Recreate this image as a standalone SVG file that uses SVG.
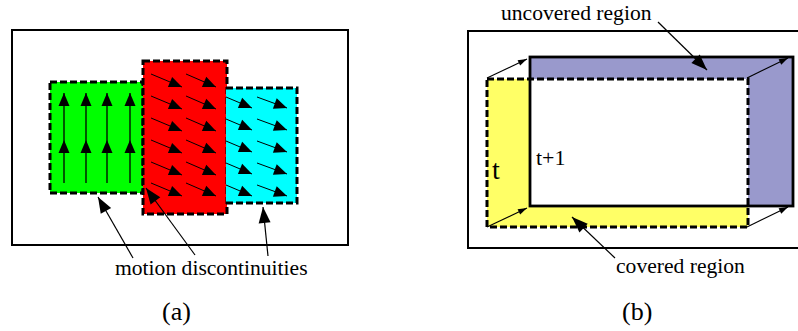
<svg xmlns="http://www.w3.org/2000/svg" width="798" height="331" viewBox="0 0 798 331">
<style>
.frame{fill:none;stroke:#000;stroke-width:2}
.dash{fill:none;stroke:#000;stroke-width:3;stroke-dasharray:7 3}
.solid{fill:none;stroke:#000;stroke-width:2.8}
.va{stroke:#000;stroke-width:1.3;fill:none;marker-end:url(#ah)}
.ptr{stroke:#000;stroke-width:1.2;fill:none;marker-end:url(#ph)}
.sm{stroke:#000;stroke-width:1.1;fill:none;marker-end:url(#sh)}
text{font-family:'Liberation Serif','Times New Roman',serif;fill:#000}
.lbl{font-size:21.6px}
.cap{font-size:26px}
</style>
<defs>
<marker id="ah" markerUnits="userSpaceOnUse" markerWidth="13" markerHeight="11" refX="13" refY="5.5" orient="auto" overflow="visible"><path d="M0,0 L13,5.5 L0,11 Z" fill="#000"/></marker>
<marker id="ph" markerUnits="userSpaceOnUse" markerWidth="16" markerHeight="12" refX="16" refY="6" orient="auto" overflow="visible"><path d="M0,0 L16,6 L0,12 Z" fill="#000"/></marker>
<marker id="sh" markerUnits="userSpaceOnUse" markerWidth="9" markerHeight="6" refX="9" refY="3" orient="auto" overflow="visible"><path d="M0,0 L9,3 L0,6 Z" fill="#000"/></marker>
</defs>
<rect width="798" height="331" fill="#fff"/>

<!-- Panel (a) -->
<g id="frame-a"><rect class="frame" x="12" y="30" width="336" height="215"/></g>
<g id="green-region">
<rect x="50" y="82" width="93" height="111" fill="#00ff00"/>
<rect class="dash" x="50" y="82" width="93" height="111"/>
<line class="va" x1="64" y1="183" x2="64" y2="140"/><line class="va" x1="64" y1="140" x2="64" y2="93"/>
<line class="va" x1="86" y1="183" x2="86" y2="140"/><line class="va" x1="86" y1="140" x2="86" y2="93"/>
<line class="va" x1="107" y1="183" x2="107" y2="140"/><line class="va" x1="107" y1="140" x2="107" y2="93"/>
<line class="va" x1="130" y1="183" x2="130" y2="140"/><line class="va" x1="130" y1="140" x2="130" y2="93"/>
</g>
<g id="red-region">
<rect x="143" y="61" width="84" height="153" fill="#ff0000"/>
<rect class="dash" x="143" y="61" width="84" height="153"/>
<g class="va" style="stroke-width:1">
<line x1="151" y1="74" x2="182" y2="87"/><line x1="186" y1="74" x2="216" y2="87"/>
<line x1="151" y1="96" x2="182" y2="109"/><line x1="186" y1="96" x2="216" y2="109"/>
<line x1="151" y1="118" x2="182" y2="131"/><line x1="186" y1="118" x2="216" y2="131"/>
<line x1="151" y1="140" x2="182" y2="153"/><line x1="186" y1="140" x2="216" y2="153"/>
<line x1="151" y1="162" x2="182" y2="175"/><line x1="186" y1="162" x2="216" y2="175"/>
<line x1="151" y1="183" x2="182" y2="196"/><line x1="186" y1="183" x2="216" y2="196"/>
</g>
</g>
<g id="cyan-region">
<rect x="226" y="88" width="71" height="115" fill="#00ffff"/>
<path class="dash" d="M226,88 H297 V203 H226"/>
<g class="va" style="stroke-width:1">
<line x1="226" y1="97" x2="252" y2="108"/><line x1="257" y1="97" x2="287" y2="108"/>
<line x1="226" y1="119" x2="252" y2="130"/><line x1="257" y1="119" x2="287" y2="130"/>
<line x1="226" y1="141" x2="252" y2="152"/><line x1="257" y1="141" x2="287" y2="152"/>
<line x1="226" y1="163" x2="252" y2="174"/><line x1="257" y1="163" x2="287" y2="174"/>
<line x1="226" y1="185" x2="252" y2="196"/><line x1="257" y1="185" x2="287" y2="196"/>
</g>
</g>
<g id="label-motion"><text class="lbl" x="115" y="275">motion discontinuities</text></g>
<g id="connectors-a">
<line class="ptr" x1="133" y1="258" x2="98" y2="197"/>
<line class="ptr" x1="195" y1="255" x2="146" y2="188"/>
<line class="ptr" x1="268" y1="256" x2="263" y2="207"/>
</g>

<!-- Panel (b) -->
<g id="frame-b"><rect class="frame" x="468" y="31" width="340" height="217"/></g>
<g id="region-t">
<rect x="487" y="79" width="261" height="148" fill="#ffff66"/>
</g>
<g id="region-t1">
<rect x="530" y="57" width="263" height="149" fill="#9999cc"/>
<rect x="530" y="79" width="218" height="127" fill="#fff"/>
<rect class="solid" x="530" y="57" width="263" height="149"/>
</g>
<g id="border-t"><rect class="dash" x="487" y="79" width="261" height="148"/></g>
<g id="label-t"><text x="492" y="179" font-size="28">t</text></g>
<g id="label-t1"><text x="536" y="165" font-size="22">t+1</text></g>
<g id="label-uncovered"><text class="lbl" x="501" y="20">uncovered region</text></g>
<g id="label-covered"><text class="lbl" x="616" y="273">covered region</text></g>
<g id="connectors-b">
<line class="sm" x1="487" y1="78" x2="527" y2="59"/>
<line class="sm" x1="747" y1="78" x2="788" y2="58"/>
<line class="sm" x1="487" y1="227" x2="527" y2="208"/>
<line class="sm" x1="747" y1="227" x2="788" y2="207"/>
<line class="ptr" x1="658" y1="22" x2="707" y2="70"/>
<line class="ptr" x1="615" y1="258" x2="572" y2="217"/>
</g>

<g id="captions">
<text class="cap" x="162" y="320">(a)</text>
<text class="cap" x="622" y="320">(b)</text>
</g>
</svg>
